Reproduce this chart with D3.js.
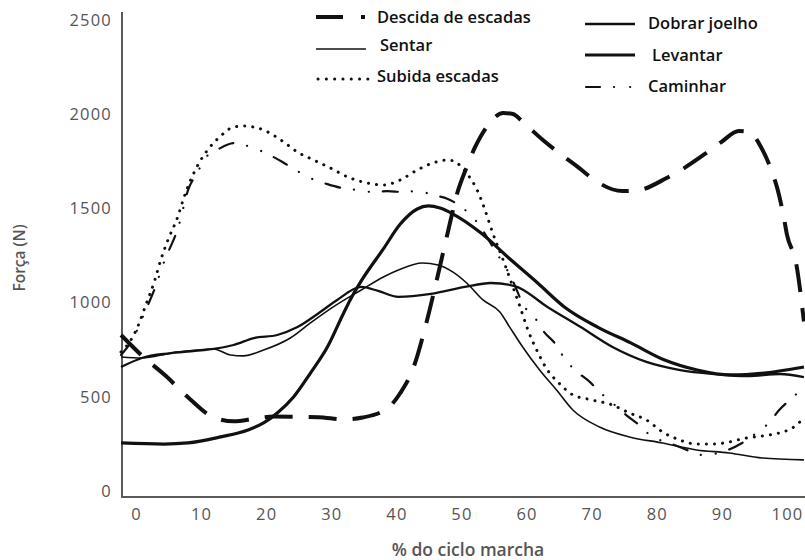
<!DOCTYPE html>
<html>
<head>
<meta charset="utf-8">
<script src="https://cdn.jsdelivr.net/npm/d3@7"></script>
<style>
  body { margin: 0; background: #fff; }
  svg { display: block; }
  text { font-family: "Open Sans", "DejaVu Sans", sans-serif; }
</style>
</head>
<body>
<svg id="chart" width="805" height="560"></svg>
<script>
// values: [% of gait cycle, force in N]
const descida = [[-2.3,828],[0.8,722],[4.6,610],[8.1,494],[11.8,393],[15,370],[18.4,385],[21.1,395],[25.3,393],[28,392],[31.9,380],[34.8,390],[38.7,441],[40.6,520],[42.6,653],[44.6,892],[46.2,1120],[47.8,1359],[49.5,1598],[50.5,1693],[52.1,1826],[54.1,1943],[56.4,2006],[57.9,2001],[59.4,1959],[62.5,1863],[64.8,1799],[68.1,1714],[70.4,1651],[74.7,1592],[77.3,1598],[81.5,1661],[84.2,1714],[87.6,1794],[89.9,1852],[92.6,1911],[94.2,1905],[96,1826],[97.7,1693],[98.5,1608],[99.5,1454],[100,1359],[101.4,1210],[102.6,900]];
const sentar = [[-2.3,711],[0.9,706],[5.4,732],[11.9,754],[14.5,722],[16.5,717],[19.6,748],[23.7,812],[26.8,892],[30.3,977],[34.6,1067],[38,1136],[40.3,1173],[44,1210],[46.4,1200],[48.7,1162],[50.8,1104],[53.3,1014],[55.9,950],[57.4,870],[59.4,764],[62,642],[64.6,536],[67.1,430],[71.2,340],[75.8,287],[80.9,255],[86.1,218],[91.1,202],[96.2,175],[102.6,165]];
const subida = [[-2.3,738],[-0.6,812],[0.5,892],[1.5,987],[2.8,1109],[3.8,1226],[4.9,1332],[6.4,1454],[7.4,1561],[8.4,1651],[9.5,1730],[11,1810],[13,1884],[15,1932],[16.5,1937],[18.7,1927],[20.2,1906],[22.7,1852],[24.8,1799],[27.3,1757],[29.9,1714],[32.5,1667],[35.5,1635],[38,1624],[40.6,1651],[43.2,1704],[45.6,1741],[47.9,1757],[49.3,1741],[51,1677],[52.4,1598],[53.6,1492],[54.8,1369],[56.4,1226],[57.9,1083],[59,977],[60.2,855],[61.7,738],[63.2,642],[64.8,579],[67.1,510],[69.4,488],[73.2,456],[75.8,414],[78.4,377],[80.9,313],[83.5,271],[86.1,249],[88.5,249],[91.1,260],[93.7,281],[96.2,292],[98.8,308],[100.8,334],[102.6,387]];
const dobrar = [[-2.3,658],[0.9,706],[5.4,732],[11.9,754],[15,775],[18.1,812],[21.7,828],[24.8,870],[28.3,950],[30.9,1014],[34.6,1083],[37.2,1062],[40.3,1030],[45.3,1046],[50.5,1083],[54.5,1104],[58.2,1088],[63.2,977],[68.3,870],[73.2,764],[78.4,685],[83.6,642],[88.8,621],[93.9,610],[98.9,621],[102.6,605]];
const levantar = [[-2.3,255],[4.3,249],[8,255],[13,287],[17.2,324],[19.6,361],[21.7,414],[24.2,499],[26.8,626],[29.4,764],[31.9,945],[32.9,1014],[34.6,1115],[38,1285],[40.6,1417],[43.2,1497],[44.9,1513],[46.7,1502],[48.7,1470],[53,1369],[57.1,1242],[61.7,1104],[65.8,977],[70.9,870],[76,786],[81.2,695],[86.2,642],[91.3,616],[96.5,626],[102.6,658]];
const caminhar = [[-2.3,722],[-0.6,801],[1.5,961],[2.8,1067],[4.3,1215],[6.6,1412],[8,1598],[9.5,1693],[10.4,1757],[12.7,1815],[15,1847],[17.6,1826],[19.9,1794],[22.5,1746],[24.5,1704],[27.1,1656],[29.4,1629],[31.7,1608],[34,1598],[36.4,1587],[38.6,1592],[41,1587],[43.3,1592],[45.6,1571],[47.9,1550],[50.2,1502],[52.5,1422],[55.1,1279],[57.6,1136],[59.7,977],[61.3,918],[62.8,839],[64.3,786],[66,695],[67.8,632],[69.7,579],[71.4,520],[73.2,467],[75.3,403],[77.3,350],[79.3,287],[81.5,260],[83.9,228],[87,191],[90,207],[93.1,255],[95.3,308],[97.2,361],[98.8,430],[100.8,494],[102.6,552]];

const xTicks = [0, 10, 20, 30, 40, 50, 60, 70, 80, 90, 100];
const yTicks = [0, 500, 1000, 1500, 2000, 2500];
const legendLabels = ['Descida de escadas', 'Sentar', 'Subida escadas', 'Dobrar joelho', 'Levantar', 'Caminhar'];

const svg = d3.select('#chart');

const x = d3.scaleLinear().domain([0, 100]).range([136, 787]);
const y = d3.scaleLinear().domain([0, 2500]).range([491, 20]);

const axisColor = '#5a5a5a';
const xLeft = x(-2.15), xRight = 805, yBottom = 497, yTop = 12;

// axis lines
svg.append('line')
  .attr('x1', xLeft).attr('x2', xLeft).attr('y1', yTop).attr('y2', yBottom)
  .attr('stroke', axisColor).attr('stroke-width', 2);
svg.append('line')
  .attr('x1', xLeft - 1).attr('x2', xRight).attr('y1', yBottom).attr('y2', yBottom)
  .attr('stroke', axisColor).attr('stroke-width', 2);

// tick labels
const yAxis = svg.append('g')
  .attr('transform', `translate(${xLeft - 7},0)`)
  .call(d3.axisLeft(y).tickValues(yTicks).tickSize(0).tickFormat(d3.format('d')));
const xAxis = svg.append('g')
  .attr('transform', `translate(0,${yBottom + 8})`)
  .call(d3.axisBottom(x).tickValues(xTicks).tickSize(0));
[xAxis, yAxis].forEach(g => {
  g.select('.domain').remove();
  g.selectAll('text')
    .attr('fill', '#555')
    .style('font-size', '16.5px')
    .style('letter-spacing', '1.2px');
});

// axis titles
svg.append('text')
  .attr('x', 468).attr('y', 556)
  .attr('text-anchor', 'middle')
  .attr('fill', '#555')
  .style('font-size', '17.5px').style('font-weight', 600)
  .text('% do ciclo marcha');
svg.append('text')
  .attr('transform', 'translate(25,258) rotate(-90)')
  .attr('text-anchor', 'middle')
  .attr('fill', '#555')
  .style('font-size', '15.5px').style('font-weight', 600)
  .text('Força (N)');

// series
const series = [
  { name: legendLabels[0], data: descida, width: 4, dash: '28,16', cap: 'butt' },
  { name: legendLabels[1], data: sentar, width: 1.6, dash: null, cap: 'butt' },
  { name: legendLabels[2], data: subida, width: 3, dash: '0.1,8', cap: 'round' },
  { name: legendLabels[3], data: dobrar, width: 2.3, dash: null, cap: 'butt' },
  { name: legendLabels[4], data: levantar, width: 3.2, dash: null, cap: 'butt' },
  { name: legendLabels[5], data: caminhar, width: 2.2, dash: '15,14,0.1,15,0.1,14', cap: 'round' }
];

const line = d3.line()
  .x(d => x(d[0]))
  .y(d => y(d[1]))
  .curve(d3.curveMonotoneX);

svg.append('g').selectAll('path')
  .data(series)
  .join('path')
  .attr('d', d => line(d.data))
  .attr('fill', 'none')
  .attr('stroke', '#111')
  .attr('stroke-width', d => d.width)
  .attr('stroke-dasharray', d => d.dash)
  .attr('stroke-linecap', d => d.cap)
  .attr('stroke-linejoin', 'round');

// legend
const legendItems = [
  { s: series[0], x: 316, y: 17, lineY: 17, tx: 377, dash: '27,18,4' },
  { s: series[1], x: 316, y: 45, lineY: 49, tx: 380, dash: null },
  { s: series[2], x: 318, y: 76, lineY: 79, tx: 377, dash: '0.1,8.2' },
  { s: series[3], x: 585, y: 23, lineY: 24, tx: 648, dash: null },
  { s: series[4], x: 585, y: 55, lineY: 55, tx: 652, dash: null },
  { s: series[5], x: 586, y: 86, lineY: 87, tx: 648, dash: '14,14,0.1,16,0.1' }
];

const legend = svg.append('g');
legendItems.forEach(it => {
  legend.append('line')
    .attr('x1', it.x).attr('x2', it.x + 50)
    .attr('y1', it.lineY).attr('y2', it.lineY)
    .attr('stroke', '#111')
    .attr('stroke-width', it.s.width)
    .attr('stroke-dasharray', it.dash)
    .attr('stroke-linecap', it.s.cap);
  legend.append('text')
    .attr('x', it.tx).attr('y', it.y)
    .attr('dy', '0.35em')
    .attr('fill', '#111')
    .style('font-size', '16.5px').style('font-weight', 600)
    .text(it.s.name);
});
</script>
</body>
</html>
